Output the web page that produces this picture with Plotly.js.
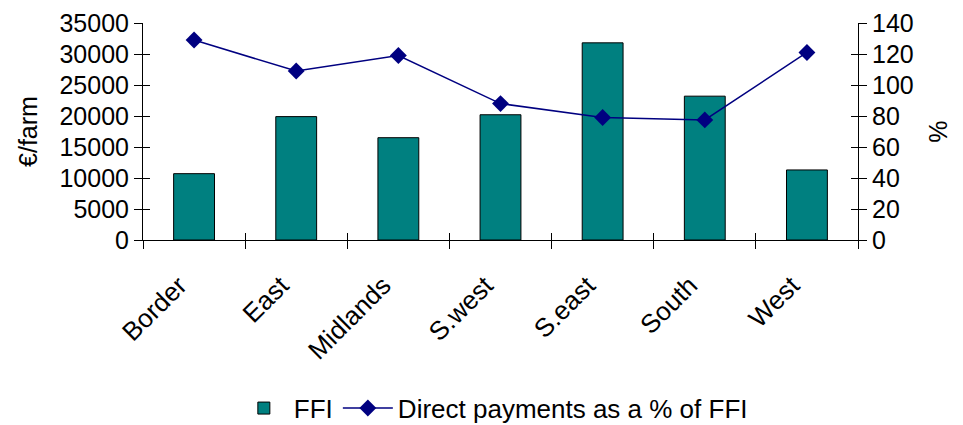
<!DOCTYPE html>
<html>
<head>
<meta charset="utf-8">
<script src="https://cdn.plot.ly/plotly-3.0.1.min.js"></script>
<style>html,body{margin:0;padding:0;background:#fff;}#chart{width:963px;height:425px;}</style>
</head>
<body>
<div id="chart"></div>
<script>
const regions = ["Border", "East", "Midlands", "S.west", "S.east", "South", "West"];
const ffi = [10700, 19900, 16500, 20200, 31800, 23200, 11300];
const directPct = [129, 109, 119, 88, 79, 77.5, 121];
const leftTicks = [0, 5000, 10000, 15000, 20000, 25000, 30000, 35000];
const rightTicks = [0, 20, 40, 60, 80, 100, 120, 140];

const font = {family: "Liberation Sans, Arial, sans-serif", size: 25, color: "#000"};
const xFont = {family: "Liberation Sans, Arial, sans-serif", size: 26, color: "#000"};
const legendFont = {family: "Liberation Sans, Arial, sans-serif", size: 26, color: "#000"};

const traces = [
  {type: "bar", name: "FFI", x: regions, y: ffi, xaxis: "x", yaxis: "y",
   marker: {color: "#008080", line: {color: "#000", width: 1}}},
  {type: "scatter", mode: "lines+markers", name: "Direct payments as a % of FFI",
   x: regions, y: directPct, xaxis: "x", yaxis: "y2",
   line: {color: "#000080", width: 1.5},
   marker: {symbol: "diamond", size: 13, color: "#000080"}},
  {type: "scatter", mode: "markers", x: regions, y: regions.map(() => null),
   xaxis: "x2", yaxis: "y3", showlegend: false, hoverinfo: "skip"},
  {type: "scatter", mode: "markers", x: regions, y: regions.map(() => null),
   xaxis: "x2", yaxis: "y4", showlegend: false, hoverinfo: "skip"}
];

const layout = {
  width: 963, height: 425,
  margin: {l: 143, r: 105, t: 23, b: 185, autoexpand: false},
  paper_bgcolor: "#fff", plot_bgcolor: "#fff",
  font: font,
  bargap: 0.6,
  showlegend: true,
  legend: {orientation: "h", x: 0.49, xanchor: "center", y: -0.775, yanchor: "middle",
           font: legendFont, tracegroupgap: 0, itemwidth: 50},
  xaxis: {type: "category", categoryarray: regions, range: [-0.5, 6.5],
          showline: true, linecolor: "#000", linewidth: 1,
          ticks: "outside", ticklen: 8, tickwidth: 1, tickcolor: "#000", tickson: "boundaries",
          tickangle: -45, tickfont: xFont, ticklabelstandoff: 19, ticklabelshift: -15,
          showgrid: false, zeroline: false, automargin: false},
  xaxis2: {type: "category", categoryarray: regions, range: [-0.5, 6.5], overlaying: "x",
           anchor: "y3", ticks: "inside", ticklen: 7, tickwidth: 1, tickcolor: "#000",
           tickson: "boundaries", showticklabels: false, showgrid: false, zeroline: false, showline: false},
  yaxis: {range: [0, 35000], tickvals: leftTicks, ticktext: leftTicks.map(String),
          showline: true, linecolor: "#000", linewidth: 1,
          ticks: "outside", ticklen: 8, tickwidth: 1, tickcolor: "#000",
          showgrid: false, zeroline: false, tickfont: font, automargin: false,
          title: {text: "€/farm", font: font, standoff: 14}},
  yaxis2: {range: [0, 140], tickvals: rightTicks, ticktext: rightTicks.map(String),
           overlaying: "y", side: "right", anchor: "x",
           showline: true, linecolor: "#000", linewidth: 1,
           ticks: "outside", ticklen: 8, tickwidth: 1, tickcolor: "#000",
           showgrid: false, zeroline: false, tickfont: font, automargin: false,
           title: {text: "%", font: font, standoff: 16}},
  yaxis3: {range: [0, 35000], tickvals: leftTicks, overlaying: "y", side: "left", anchor: "x2",
           ticks: "inside", ticklen: 7, tickwidth: 1, tickcolor: "#000",
           showticklabels: false, showgrid: false, zeroline: false, showline: false},
  yaxis4: {range: [0, 140], tickvals: rightTicks, overlaying: "y", side: "right", anchor: "x2",
           ticks: "inside", ticklen: 7, tickwidth: 1, tickcolor: "#000",
           showticklabels: false, showgrid: false, zeroline: false, showline: false}
};

Plotly.newPlot("chart", traces, layout, {displayModeBar: false, staticPlot: true});
</script>
</body>
</html>
